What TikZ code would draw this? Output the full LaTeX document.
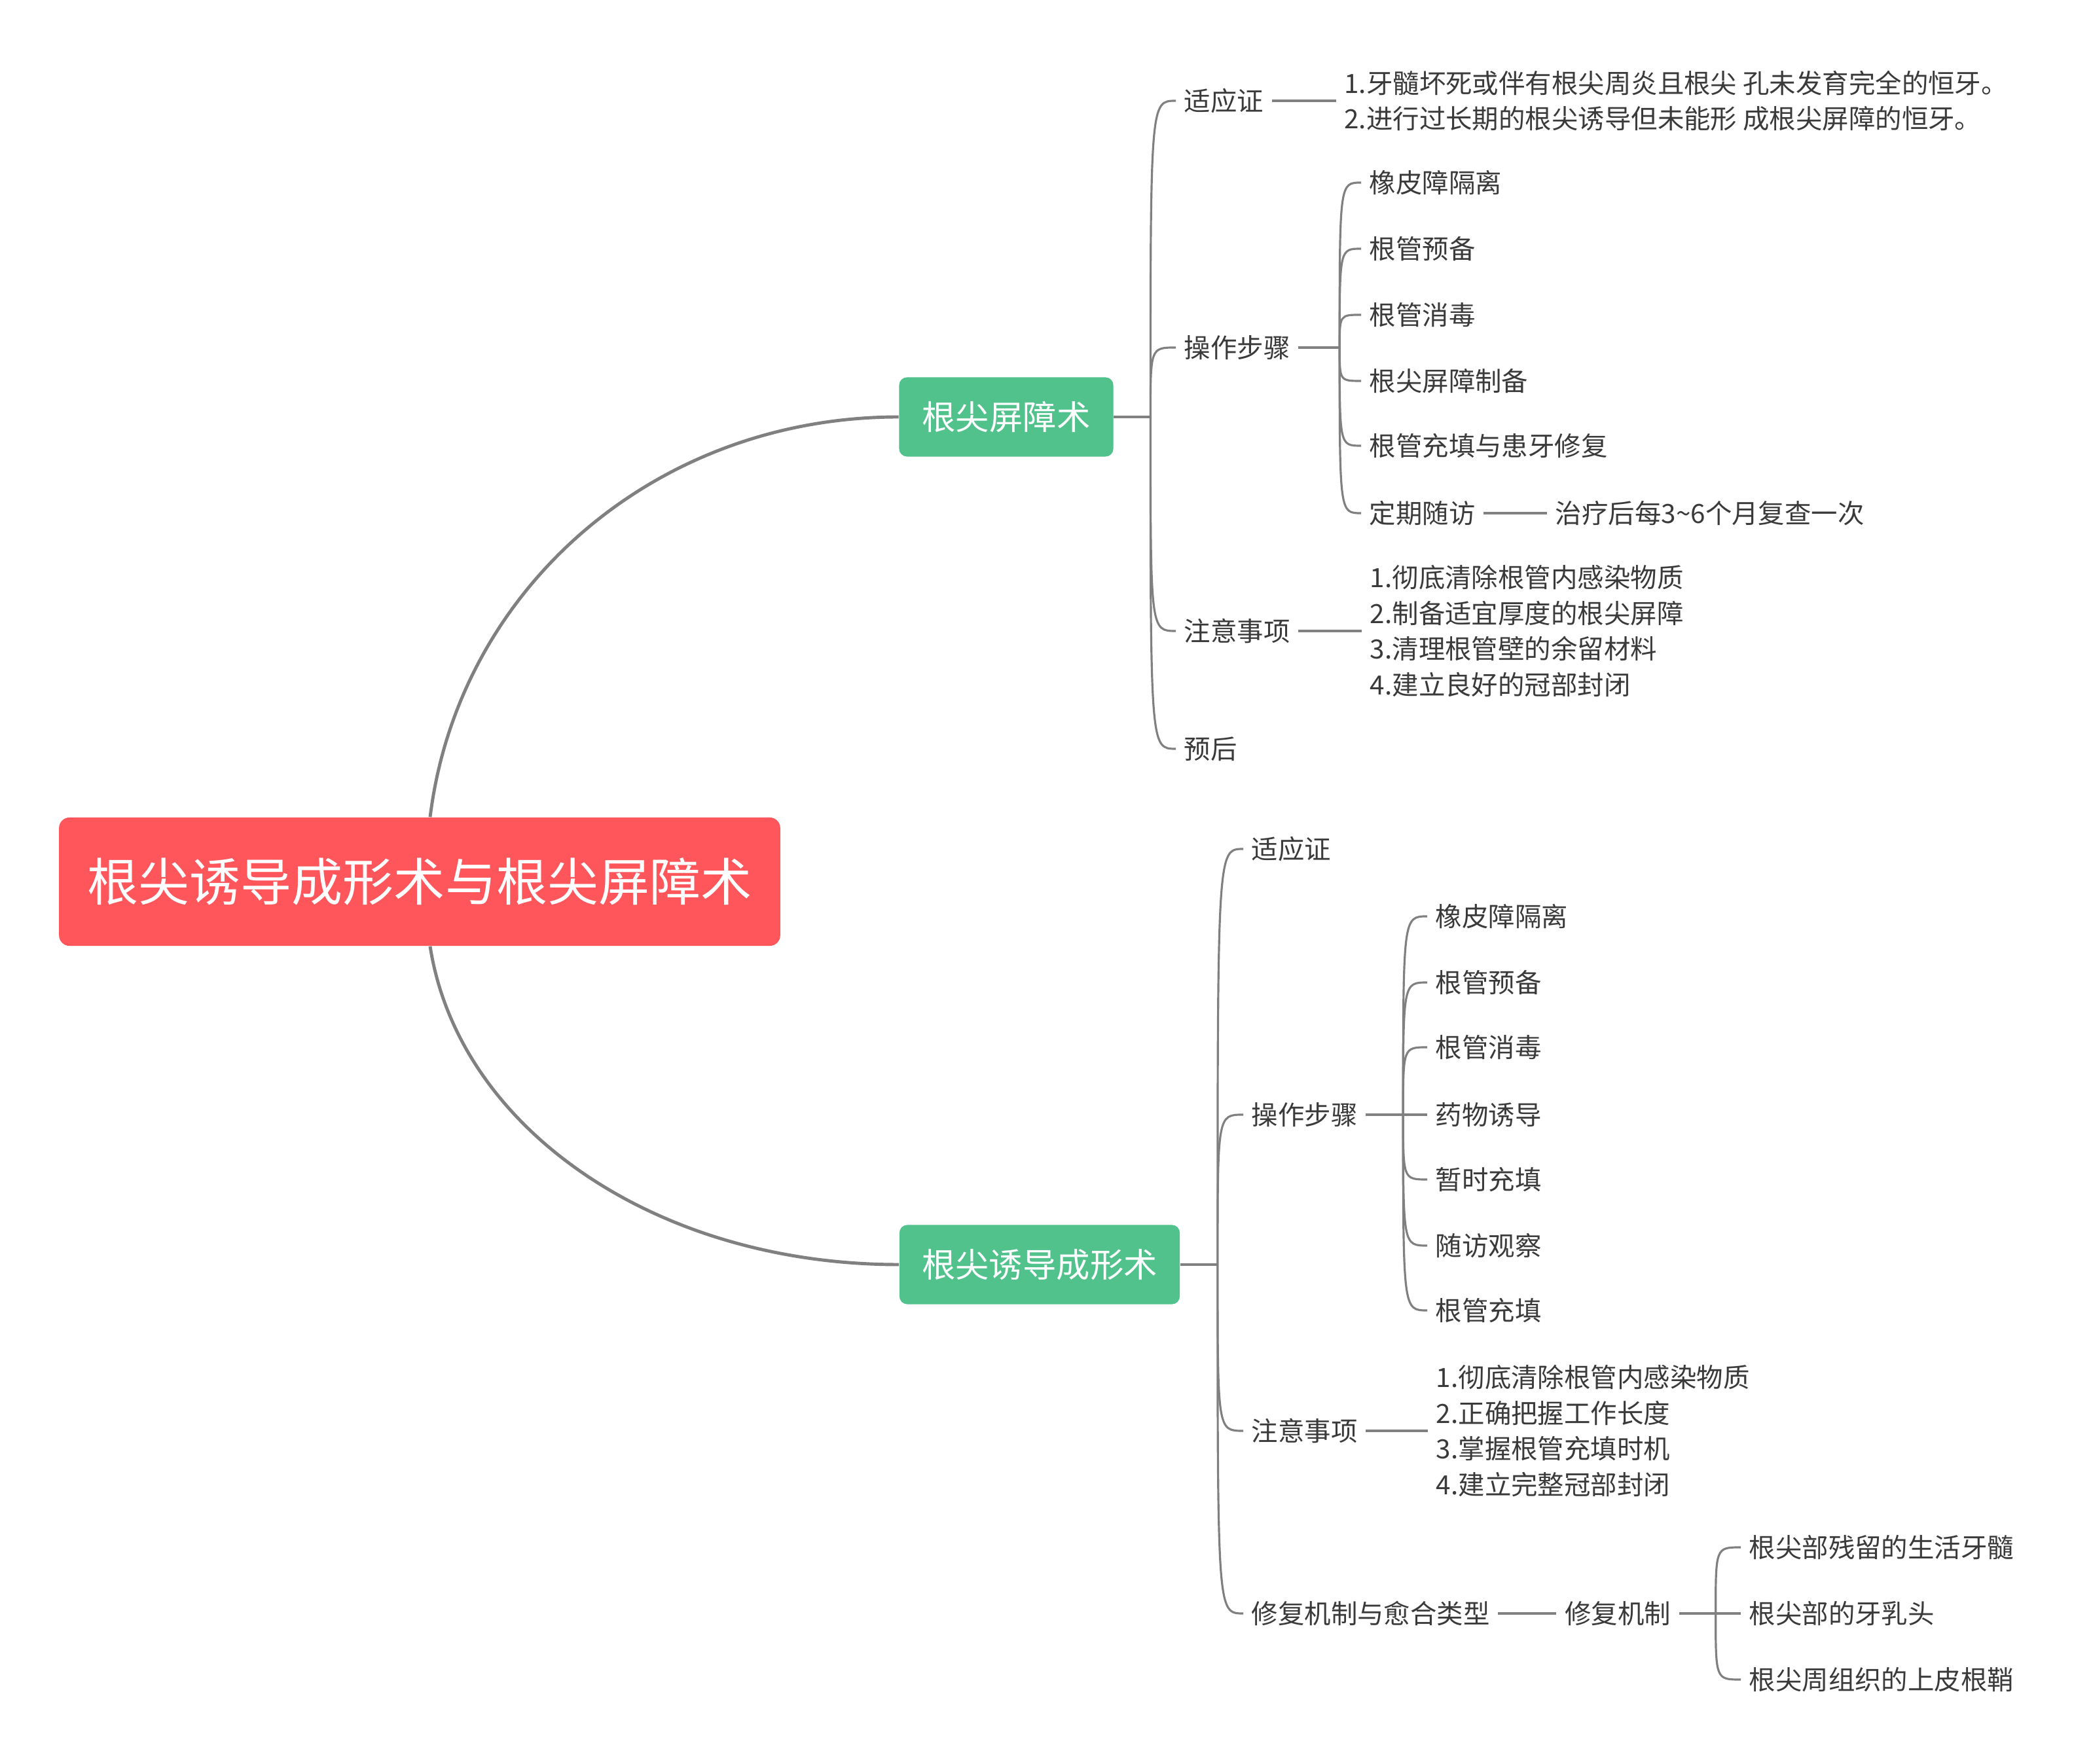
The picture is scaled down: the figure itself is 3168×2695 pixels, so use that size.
\documentclass[tikz,border=0pt]{standalone}
\usepackage{fontspec}
\setmainfont{Noto Sans CJK SC}
\usetikzlibrary{positioning}

\definecolor{rootred}{HTML}{FF565C}
\definecolor{mintgreen}{HTML}{52C28D}
\definecolor{linegray}{HTML}{808080}
\definecolor{textgray}{HTML}{3A3A3A}

\begin{document}
\begin{tikzpicture}[
    x=0.01cm, y=-0.01cm,
    rootbox/.style={rectangle, rounded corners=0.16cm, fill=rootred, text=white, minimum width=11.01cm, minimum height=1.96cm, font=\fontsize{22.2}{26}\selectfont},
    mainbox/.style={rectangle, rounded corners=0.12cm, fill=mintgreen, text=white, minimum height=1.21cm, font=\fontsize{14.6}{18}\selectfont},
    topic/.style={anchor=west, inner xsep=0.12cm, inner ysep=0.05cm, text=textgray, font=\fontsize{11.5}{15.5}\selectfont},
    notes/.style={topic, align=left},
    curve/.style={draw=linegray, line width=1.4pt},
    link/.style={draw=linegray, line width=0.9pt},
    stub/.style={draw=linegray, line width=1.3pt}
  ]
    \useasboundingbox (0,0) rectangle (3168,2695);

    \node[rootbox] (root) at (641,1347) {根尖诱导成形术与根尖屏障术};
    \node[mainbox, minimum width=3.27cm] (barrier) at (1537,637) {根尖屏障术};
    \node[mainbox, minimum width=4.28cm] (apexif) at (1588,1932) {根尖诱导成形术};

    \draw[curve] ([xshift=0.16cm]root.north) .. controls (700,900) and (1000,637) .. (barrier.west);
    \draw[curve] ([xshift=0.16cm]root.south) .. controls (700,1723) and (1000,1932) .. (apexif.west);

    % 根尖屏障术
    \coordinate[right=0.56cm of barrier] (jb);
    \draw[stub] (barrier.east) -- (jb);

    \node[topic] (b_ind) at (1796,154) {适应证};
    \node[notes, right=0.98cm of b_ind] (b_ind_txt) {1.牙髓坏死或伴有根尖周炎且根尖 孔未发育完全的恒牙。\\2.进行过长期的根尖诱导但未能形 成根尖屏障的恒牙。};
    \node[topic] (b_ops) at (1796,531) {操作步骤};
    \node[topic] (b_note) at (1796,964) {注意事项};
    \node[notes, right=0.97cm of b_note] (b_note_txt) {1.彻底清除根管内感染物质\\2.制备适宜厚度的根尖屏障\\3.清理根管壁的余留材料\\4.建立良好的冠部封闭};
    \node[topic] (b_prog) at (1796,1144) {预后};

    \foreach \kid in {b_ind, b_ops, b_note, b_prog}
      \draw[link] (jb) .. controls (jb |- \kid) and (jb |- \kid) .. (\kid.west);
    \draw[stub] (b_ind) -- (b_ind_txt);
    \draw[stub] (b_note) -- (b_note_txt);

    \coordinate[right=0.63cm of b_ops] (jbo);
    \draw[stub] (b_ops.east) -- (jbo);
    \node[topic] (bs1) at (2079,279) {橡皮障隔离};
    \node[topic] (bs2) at (2079,380) {根管预备};
    \node[topic] (bs3) at (2079,481) {根管消毒};
    \node[topic] (bs4) at (2079,582) {根尖屏障制备};
    \node[topic] (bs5) at (2079,681) {根管充填与患牙修复};
    \node[topic] (bs6) at (2079,784) {定期随访};
    \node[topic, right=0.97cm of bs6] (bs6_txt) {治疗后每3\textasciitilde 6个月复查一次};
    \foreach \kid in {bs1, bs2, bs3, bs4, bs5, bs6}
      \draw[link] (jbo) .. controls (jbo |- \kid) and (jbo |- \kid) .. (\kid.west);
    \draw[stub] (bs6) -- (bs6_txt);

    % 根尖诱导成形术
    \coordinate[right=0.57cm of apexif] (ja);
    \draw[stub] (apexif.east) -- (ja);

    \node[topic] (a_ind) at (1899,1297) {适应证};
    \node[topic] (a_ops) at (1899,1703) {操作步骤};
    \node[topic] (a_note) at (1899,2186) {注意事项};
    \node[notes, right=0.95cm of a_note] (a_note_txt) {1.彻底清除根管内感染物质\\2.正确把握工作长度\\3.掌握根管充填时机\\4.建立完整冠部封闭};
    \node[topic] (a_heal) at (1899,2465) {修复机制与愈合类型};
    \node[topic, right=0.89cm of a_heal] (a_mech) {修复机制};

    \foreach \kid in {a_ind, a_ops, a_note, a_heal}
      \draw[link] (ja) .. controls (ja |- \kid) and (ja |- \kid) .. (\kid.west);
    \draw[stub] (a_note) -- (a_note_txt);
    \draw[stub] (a_heal) -- (a_mech);

    \coordinate[right=0.57cm of a_ops] (jao);
    \draw[stub] (a_ops.east) -- (jao);
    \node[topic] (as1) at (2180,1400) {橡皮障隔离};
    \node[topic] (as2) at (2180,1501) {根管预备};
    \node[topic] (as3) at (2180,1600) {根管消毒};
    \node[topic] (as4) at (2180,1703) {药物诱导};
    \node[topic] (as5) at (2180,1802) {暂时充填};
    \node[topic] (as6) at (2180,1903) {随访观察};
    \node[topic] (as7) at (2180,2002) {根管充填};
    \foreach \kid in {as1, as2, as3, as4, as5, as6, as7}
      \draw[link] (jao) .. controls (jao |- \kid) and (jao |- \kid) .. (\kid.west);

    \coordinate[right=0.56cm of a_mech] (jam);
    \draw[stub] (a_mech.east) -- (jam);
    \node[topic] (am1) at (2659,2364) {根尖部残留的生活牙髓};
    \node[topic] (am2) at (2659,2465) {根尖部的牙乳头};
    \node[topic] (am3) at (2659,2566) {根尖周组织的上皮根鞘};
    \foreach \kid in {am1, am2, am3}
      \draw[link] (jam) .. controls (jam |- \kid) and (jam |- \kid) .. (\kid.west);
  \end{tikzpicture}
\end{document}
